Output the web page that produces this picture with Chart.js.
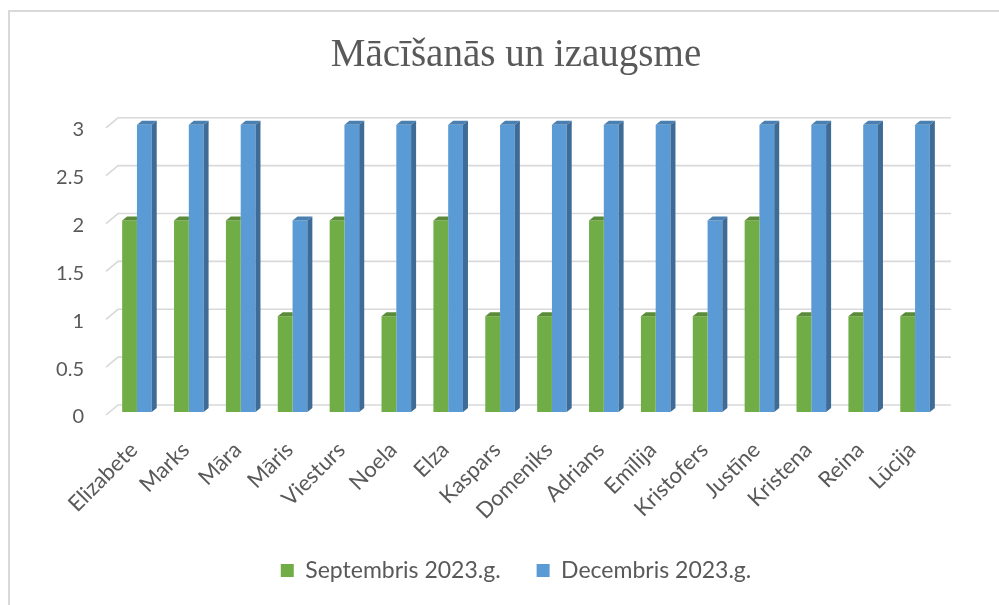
<!DOCTYPE html>
<html lang="lv">
<head>
<meta charset="UTF-8">
<title>Mācīšanās un izaugsme</title>
<script src="https://cdn.jsdelivr.net/npm/chart.js"></script>
<style>
  html, body { margin: 0; padding: 0; background: #fff; overflow: hidden; }
  #wrap { position: relative; width: 999px; height: 605px; }
  #frame { position: absolute; left: 8px; top: 10px; width: 1000px; height: 600px;
           border-left: 2px solid #d9d9d9; border-top: 2px solid #d9d9d9; }
  #box { position: absolute; left: 0; top: 0; width: 999px; height: 605px; }
</style>
</head>
<body>
<div id="wrap">
  <div id="frame"></div>
  <div id="box"><canvas id="chart"></canvas></div>
</div>
<script>
const names = ['Elizabete', 'Marks', 'Māra', 'Māris', 'Viesturs', 'Noela', 'Elza', 'Kaspars',
               'Domeniks', 'Adrians', 'Emīlija', 'Kristofers', 'Justīne', 'Kristena', 'Reina', 'Lūcija'];
const september = [2, 2, 2, 1, 2, 1, 2, 1, 1, 2, 1, 1, 2, 1, 1, 1];
const december  = [3, 3, 3, 2, 3, 3, 3, 3, 3, 3, 3, 2, 3, 3, 3, 3];
const yTicks = [0, 0.5, 1, 1.5, 2, 2.5, 3];

const grey = '#595959';

// fake 3D: back wall gridlines + top/side faces of the bars
const depth = {
  id: 'depth',
  beforeDatasetsDraw(chart) {
    const { ctx, chartArea: a, scales: { y } } = chart;
    ctx.save();
    ctx.strokeStyle = '#d9d9d9';
    ctx.lineWidth = 1.6;
    yTicks.forEach(v => {
      const py = y.getPixelForValue(v);
      ctx.beginPath();
      ctx.moveTo(a.left - 5, py + 3);
      ctx.lineTo(a.left + 7, py - 7);
      ctx.lineTo(a.right + 10, py - 7);
      ctx.stroke();
    });
    ctx.restore();
  },
  afterDatasetsDraw(chart) {
    const { ctx } = chart;
    const dx = 5, dy = 4;
    const faces = [
      { top: '#5a8b39', side: null },
      { top: '#4a7fb2', side: '#3e6c97' }
    ];
    ctx.save();
    chart.data.datasets.forEach((ds, i) => {
      chart.getDatasetMeta(i).data.forEach(bar => {
        const { x, y, base, width } = bar.getProps(['x', 'y', 'base', 'width'], true);
        const l = x - width / 2, r = x + width / 2;
        ctx.fillStyle = faces[i].top;
        ctx.beginPath();
        ctx.moveTo(l, y);
        ctx.lineTo(l + dx, y - dy);
        ctx.lineTo(faces[i].side ? r + dx : r, y - dy);
        ctx.lineTo(r, y);
        ctx.closePath();
        ctx.fill();
        if (faces[i].side) {
          ctx.fillStyle = faces[i].side;
          ctx.beginPath();
          ctx.moveTo(r, y);
          ctx.lineTo(r + dx, y - dy);
          ctx.lineTo(r + dx, base - dy);
          ctx.lineTo(r, base);
          ctx.closePath();
          ctx.fill();
        }
      });
    });
    ctx.restore();
  }
};

// legend: wide gap between items, fixed box height, nudged up a little
const legendFix = {
  id: 'legendFix',
  afterInit(chart) {
    const lg = chart.legend;
    if (!lg) return;
    const fit = lg.fit.bind(lg);
    lg.fit = function () { fit(); this.height = 65; };
  },
  afterLayout(chart) {
    if (chart.legend) {
      chart.legend.top -= 14;
      chart.legend.bottom -= 14;
    }
  }
};

new Chart(document.getElementById('chart'), {
  type: 'bar',
  data: {
    labels: names,
    datasets: [
      { label: 'Septembris 2023.g.', data: september, backgroundColor: '#70ad47' },
      { label: 'Decembris 2023.g.', data: december, backgroundColor: '#5b9bd5' }
    ]
  },
  options: {
    responsive: true,
    maintainAspectRatio: false,
    animation: false,
    layout: { padding: { left: 45, right: 12, top: 0, bottom: 3 } },
    datasets: { bar: { categoryPercentage: 0.57, barPercentage: 1, borderWidth: 0 } },
    scales: {
      x: {
        grid: { display: false, drawTicks: false },
        border: { display: false },
        ticks: {
          color: grey, autoSkip: false, maxRotation: 45, minRotation: 45,
          padding: 25, labelOffset: -3,
          font: { family: 'Lato', size: 22 }
        },
        afterFit: s => { s.height = 125; }
      },
      y: {
        min: 0, max: 3,
        grid: { display: false, drawTicks: false },
        border: { display: false },
        afterBuildTicks: s => { s.ticks = yTicks.map(v => ({ value: v })); },
        ticks: {
          color: grey, padding: 27, labelOffset: 5,
          font: { family: 'Lato', size: 20 },
          callback: v => String(v)
        },
        afterFit: s => { s.width = 66; }
      },
      // empty right-hand spacer so title and legend centre like the original
      y2: {
        position: 'right',
        min: 0, max: 3,
        grid: { display: false, drawTicks: false },
        border: { display: false },
        ticks: { display: false },
        afterFit: s => { s.width = 46; }
      }
    },
    plugins: {
      title: {
        display: true,
        text: 'Mācīšanās un izaugsme',
        color: grey,
        font: { family: 'Liberation Serif', size: 39, weight: 'normal' },
        padding: { top: 32, bottom: 46 }
      },
      legend: {
        position: 'bottom',
        labels: {
          color: grey, boxWidth: 13, boxHeight: 13, padding: 36,
          font: { family: 'Lato', size: 23 }
        }
      },
      tooltip: { enabled: false }
    }
  },
  plugins: [depth, legendFix]
});
</script>
</body>
</html>
